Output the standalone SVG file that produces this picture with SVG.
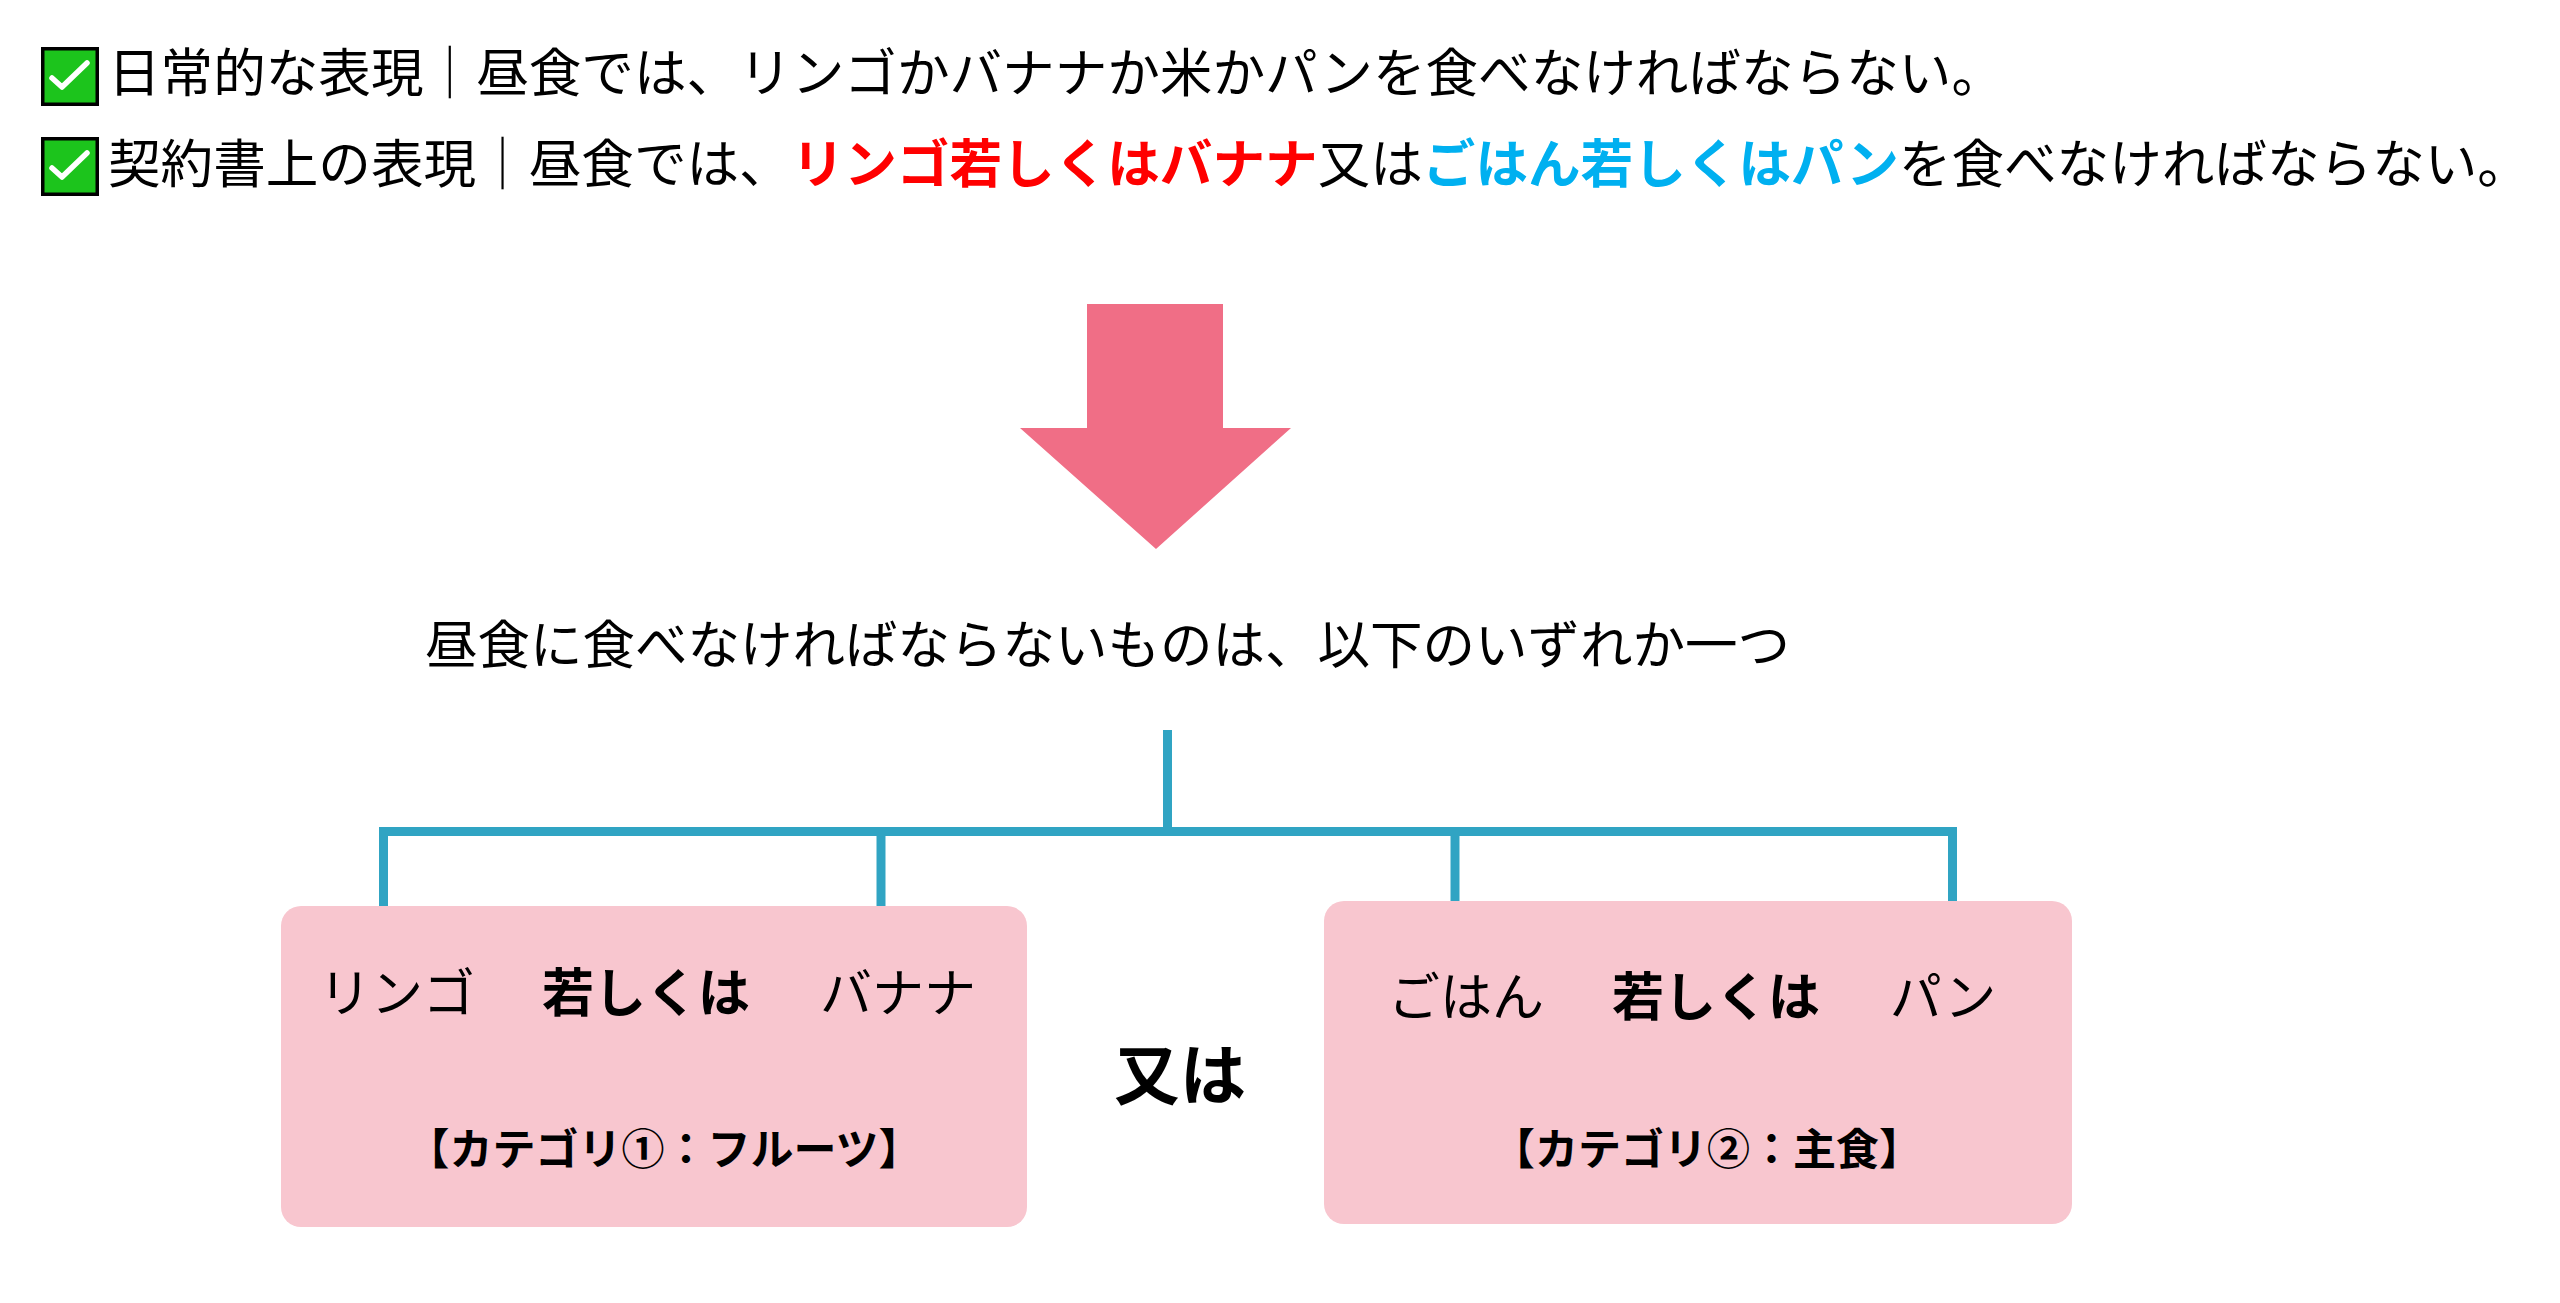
<svg xmlns="http://www.w3.org/2000/svg" width="2560" height="1303" viewBox="0 0 2560 1303">
<style>
  .jp { font-family: "Noto Sans CJK JP", "Noto Sans", sans-serif; fill: #000; }
  .b { font-weight: 700; }
  .red { fill: #ff0000; font-weight: 700; }
  .blue { fill: #00b0f0; font-weight: 700; }
  .box { fill: #f8c6cf; }
  .chk { fill: #1cc41c; stroke: #000; stroke-width: 3.5; }
  .tick { fill: none; stroke: #fff; stroke-width: 5.5; stroke-linecap: round; stroke-linejoin: round; }
  .conn { fill: none; stroke: #30a4c3; stroke-width: 9; stroke-linejoin: miter; stroke-linecap: butt; }
</style>
<rect x="0" y="0" width="2560" height="1303" fill="#fff"/>

<g id="line1">
  <rect class="chk" x="42.75" y="48.75" width="54.5" height="55.5"/>
  <polyline class="tick" points="52,78 62,87 87,63"/>
  <text class="jp" x="108" y="92" font-size="52.6">日常的な表現｜昼食では、リンゴかバナナか米かパンを食べなければならない。</text>
</g>

<g id="line2">
  <rect class="chk" x="42.75" y="138.75" width="54.5" height="55.5"/>
  <polyline class="tick" points="52,168 62,177 87,153"/>
  <text class="jp" x="108" y="183" font-size="52.6">契約書上の表現｜昼食では、<tspan class="red">リンゴ若しくはバナナ</tspan>又は<tspan class="blue">ごはん若しくはパン</tspan>を食べなければならない。</text>
</g>

<g id="arrow">
  <polygon points="1087,304 1223,304 1223,428 1291,428 1156,549 1020,428 1087,428" fill="#f06e86"/>
</g>

<g id="summary">
  <text class="jp" x="425" y="664" font-size="52.5">昼食に食べなければならないものは、以下のいずれか一つ</text>
</g>

<g id="connectors">
  <path class="conn" d="M1167.5 730 V831.5"/>
  <path class="conn" d="M383.5 906 V831.5 H1952.5 V901"/>
  <path class="conn" d="M881 831.5 V906"/>
  <path class="conn" d="M1455 831.5 V901"/>
</g>

<g id="box1">
  <rect class="box" x="281" y="906" width="746" height="321" rx="20" ry="20"/>
  <text class="jp" x="397" y="1012" font-size="52" text-anchor="middle">リンゴ</text>
  <text class="jp b" x="646" y="1012" font-size="52" text-anchor="middle">若しくは</text>
  <text class="jp" x="898" y="1012" font-size="52" text-anchor="middle">バナナ</text>
  <text class="jp b" x="664" y="1165" font-size="43" text-anchor="middle">【カテゴリ①：フルーツ】</text>
</g>

<g id="or">
  <text class="jp b" x="1180" y="1099" font-size="66" text-anchor="middle">又は</text>
</g>

<g id="box2">
  <rect class="box" x="1324" y="901" width="748" height="323" rx="20" ry="20"/>
  <text class="jp" x="1466" y="1016" font-size="52" text-anchor="middle">ごはん</text>
  <text class="jp b" x="1716" y="1016" font-size="52" text-anchor="middle">若しくは</text>
  <text class="jp" x="1943" y="1016" font-size="52" text-anchor="middle">パン</text>
  <text class="jp b" x="1707" y="1165" font-size="43" text-anchor="middle">【カテゴリ②：主食】</text>
</g>
</svg>
